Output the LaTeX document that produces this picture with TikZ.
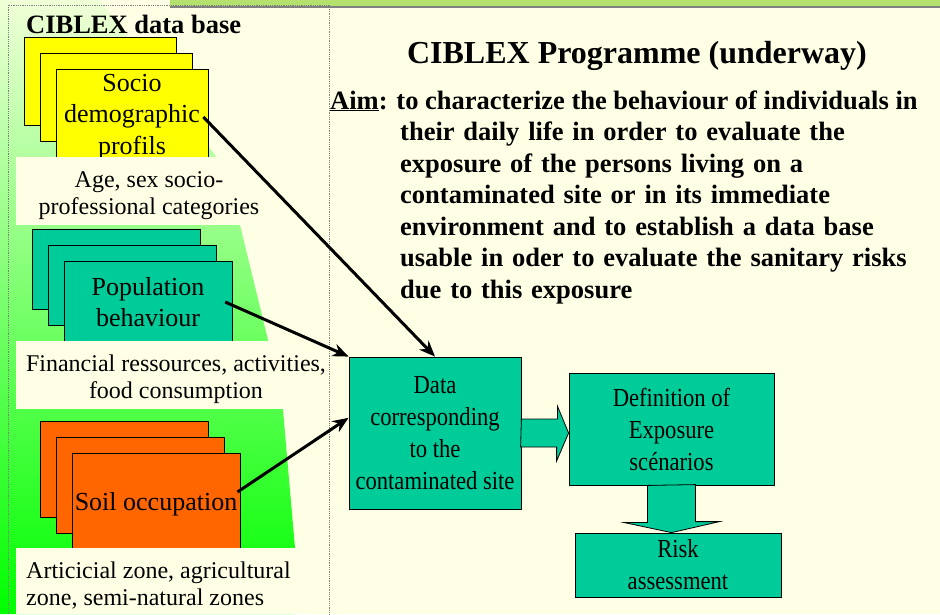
\documentclass[tikz,border=0pt]{standalone}
\usepackage{fontspec}
\setmainfont{Liberation Serif}
\newfontfamily\narrowserif[FakeStretch=0.87]{Liberation Serif}
\usetikzlibrary{arrows.meta}

\definecolor{cream}{RGB}{255,255,230}
\definecolor{cardyellow}{RGB}{255,255,0}
\definecolor{cardteal}{RGB}{0,204,153}
\definecolor{cardorange}{RGB}{255,102,0}
\definecolor{palegreen}{RGB}{240,255,215}
\definecolor{midgreen}{RGB}{165,255,115}
\definecolor{brightgreen}{RGB}{0,255,0}
\definecolor{stripgreen}{RGB}{180,225,110}

\tikzset{
  card/.style={draw=black, line width=0.8pt},
  cardtext/.style={font=\fontsize{26}{31.5}\selectfont, align=center},
  caption/.style={font=\fontsize{24}{27}\selectfont, inner sep=0pt, align=center},
  aimtext/.style={font=\bfseries\fontsize{26.5}{31.5}\selectfont, anchor=base west, inner sep=0pt, align=left},
  flowbox/.style={draw=black, line width=0.8pt, fill=cardteal, inner sep=0pt, align=center,
    font=\narrowserif\fontsize{26}{32}\selectfont},
  feed/.style={line width=3pt, -{Stealth[length=16pt,width=13pt]}},
  bigarrow/.style={draw=black, line width=0.8pt, fill=cardteal},
}

\begin{document}
\begin{tikzpicture}[x=1pt,y=-1pt]
    \useasboundingbox (0,0) rectangle (940,614);
    \fill[cream] (0,0) rectangle (940,614);

    % green panel behind the cards
    \shade[top color=palegreen, middle color=midgreen, bottom color=brightgreen]
    (0,0) -- (100,0) -- (215,155) -- (240,225) -- (268,340) -- (283,410)
    -- (295,548) -- (295,614) -- (0,614) -- cycle;

    \fill[stripgreen] (170,0) rectangle (940,6);
    \draw[gray, line width=2pt] (170,7) -- (940,7);

    % stacks of cards
    \foreach \d in {0,16,32} {
        \draw[card, fill=cardyellow] (24+\d,37+\d) rectangle ++(152,88);
        \draw[card, fill=cardteal] (32+\d,229+\d) rectangle ++(168,80);
        \draw[card, fill=cardorange] (40+\d,421+\d) rectangle ++(168,96);
    }

    \node[cardtext] (socio) at (132,117) {Socio\\demographic\\profils};
    \node[cardtext, minimum width=154pt] (pop) at (148,302) {Population\\behaviour};
    \node[cardtext, inner sep=0pt] (soil) at (156,504) {Soil occupation};

    % captions under the cards
    \fill[cream] (16,157) rectangle (282,225);
    \fill[cream] (16,341) rectangle (336,409);
    \fill[cream] (16,548) rectangle (330,614);
    \node[caption] (agecap) at (149,196) {Age, sex socio-\\professional categories};
    \node[caption] (fincap) at (176,379) {Financial ressources, activities,\\food consumption};
    \node[caption, align=left, anchor=west] (zonecap) at (26,586) {Articicial zone, agricultural\\zone, semi-natural zones};

    \draw[gray, densely dotted, line width=0.8pt] (8,5) rectangle (329,620);

    \node[font=\bfseries\fontsize{26.5}{30}\selectfont, anchor=base west, inner sep=0pt] (dbtitle) at (26,33)
    {CIBLEX data base};
    \node[font=\bfseries\fontsize{32}{36}\selectfont, anchor=base, inner sep=0pt] (title) at (637,63)
    {CIBLEX Programme (underway)};
    \node[aimtext] (aimhead) at (330,109)
    {\underline{Aim}: to characterize the behaviour of individuals in};
    \node[aimtext, text width=540pt] (aimbody) at (400,140.5)
    {their daily life in order to evaluate the\\
    exposure of the persons living on a\\
    contaminated site or in its immediate\\
    environment and to establish a data base\\
    usable in oder to evaluate the sanitary risks\\
    due to this exposure};

    % flow on the right
    \node[flowbox, minimum width=172pt, minimum height=152pt] (data) at (435,433)
    {Data\\corresponding\\to the\\contaminated site};
    \node[flowbox, minimum width=205pt, minimum height=112pt] (expo) at (671.5,429)
    {Definition of\\Exposure\\scénarios};
    \node[flowbox, minimum width=206pt, minimum height=64pt] (risk) at (678,565)
    {Risk\\assessment};

    \draw[bigarrow] (data.east) ++(0,-14) -- ++(36,0) -- ++(0,-13) -- (expo.west |- data.east)
    -- ++(-12,28) -- ++(0,-14) -- ++(-36,0) -- cycle;
    \draw[bigarrow] (expo.south) ++(-24,0) -- ++(0,37) -- ++(-24,0) -- (expo.south |- risk.north)
    -- ++(48,-11) -- ++(-24,0) -- ++(0,-37) -- cycle;

    \draw[feed] (socio.east) -- (data.north);
    \draw[feed] (pop.east) -- (data.north west);
    \draw[feed] (soil.north east) -- (data.170);
\end{tikzpicture}
\end{document}
